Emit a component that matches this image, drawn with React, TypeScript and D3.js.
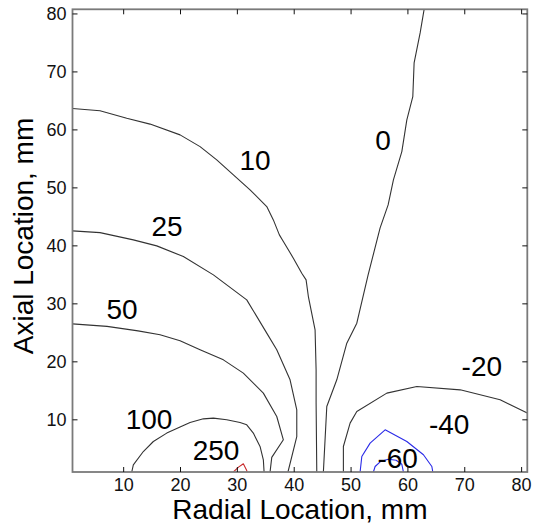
import React from "react";
import * as d3 from "d3";

// ---- data (data units: radial mm, axial mm) ----
const xTicks = [10, 20, 30, 40, 50, 60, 70, 80];
const yTicks = [10, 20, 30, 40, 50, 60, 70, 80];

const level250: [number, number][] = [
  [29.3, 1.0], [30.2, 1.84], [31.05, 2.41], [31.65, 1.26], [31.7, 1.0],
];
const level100: [number, number][] = [
  [11.42, 1.0], [11.7, 2.24], [13.46, 4.53], [15.22, 6.26], [17.58, 7.71], [19.92, 8.74],
  [21.68, 9.53], [24.02, 10.17], [25.78, 10.29], [28.13, 10.0], [30.47, 9.53], [31.65, 9.14],
  [32.81, 7.71], [33.99, 5.4], [34.57, 3.1], [34.7, 1.0],
];
const level50: [number, number][] = [
  [1.0, 26.55], [7.07, 26.12], [12.53, 25.34], [16.4, 24.66], [19.92, 23.62], [23.44, 22.07],
  [27.54, 20.34], [31.05, 18.05], [34.57, 14.6], [36.93, 10.57], [38.09, 6.55], [36.05, 3.53],
  [35.75, 1.0],
];
const level25: [number, number][] = [
  [1.0, 42.59], [5.84, 42.29], [11.7, 41.03], [15.82, 40.0], [20.5, 38.16], [25.78, 35.0],
  [31.65, 30.69], [35.17, 24.95], [36.93, 22.07], [39.27, 16.9], [40.45, 11.72], [40.45, 7.12],
  [38.9, 1.0],
];
const level10: [number, number][] = [
  [1.0, 63.7], [5.84, 63.3], [10.54, 62.0], [14.64, 61.0], [19.92, 59.14], [23.44, 57.12],
  [26.37, 54.83], [29.3, 52.24], [32.23, 49.66], [35.17, 46.78], [36.33, 44.48], [37.39, 41.9],
  [38.09, 40.74], [39.85, 37.88], [41.33, 35.29], [42.09, 34.14], [42.49, 31.26], [43.67, 25.52],
  [43.85, 18.62], [43.85, 12.93], [43.97, 1.0],
];
const level0: [number, number][] = [
  [62.85, 80.8], [62.15, 76.72], [61.09, 71.55], [60.86, 65.74], [59.81, 61.72], [58.93, 56.26],
  [57.45, 51.38], [56.52, 47.07], [55.11, 43.1], [53.0, 35.0], [51.01, 26.67], [49.25, 23.22],
  [47.49, 16.9], [45.73, 12.29], [45.13, 1.0],
];
const levelNeg20: [number, number][] = [
  [81.0, 11.16], [76.22, 13.45], [69.19, 15.17], [61.57, 15.74], [56.29, 14.6], [51.01, 11.43],
  [49.83, 9.43], [48.65, 5.4], [48.65, 1.0],
];
const levelNeg40: [number, number][] = [
  [51.59, 1.0], [51.89, 3.67], [53.35, 5.98], [55.99, 8.28], [59.81, 6.26], [62.73, 3.97],
  [64.21, 1.95], [64.38, 1.0],
];
const levelNeg60: [number, number][] = [
  [53.93, 1.0], [54.23, 1.95], [55.11, 2.76], [56.52, 3.19], [57.93, 3.02], [58.93, 2.33],
  [59.21, 1.0],
];

const labelTexts = ["0", "10", "25", "50", "100", "250", "-20", "-40", "-60"];
const labelX = [55.64, 33.11, 17.63, 9.71, 14.46, 26.25, 73.0, 67.25, 58.19];
const labelY = [58.28, 54.83, 43.45, 29.05, 10.17, 4.88, 19.31, 9.31, 3.45];

// ---- layout / style ----
const W = 534;
const H = 527;
const left = 72.5;
const right = 527.3;
const top = 9.3;
const bottom = 472;
const FONT = "Liberation Sans, Arial, Helvetica, sans-serif";

const x = d3.scaleLinear().domain([1, 81]).range([left, right]);
const y = d3.scaleLinear().domain([1, 80.8]).range([bottom, top]);
const line = d3
  .line<[number, number]>()
  .x((d) => x(d[0]))
  .y((d) => y(d[1]));

const series = [
  { pts: level250, color: "#c8282a" },
  { pts: level100, color: "#333333" },
  { pts: level50, color: "#333333" },
  { pts: level25, color: "#333333" },
  { pts: level10, color: "#333333" },
  { pts: level0, color: "#333333" },
  { pts: levelNeg20, color: "#333333" },
  { pts: levelNeg40, color: "#2a2ae8" },
  { pts: levelNeg60, color: "#2a2ae8" },
];

export default function App() {
  const tickLen = 5;
  return (
    <svg
      width={W}
      height={H}
      style={{ position: "absolute", left: 0, top: 0, display: "block", background: "#fff" }}
      fontFamily={FONT}
    >
      <defs>
        <clipPath id="plotClip">
          <rect x={left} y={top} width={right - left} height={bottom - top} />
        </clipPath>
      </defs>
      <rect x={0} y={0} width={W} height={H} fill="#fff" />
      <g clipPath="url(#plotClip)">
        {series.map((s, i) => (
          <path key={i} d={line(s.pts) || ""} fill="none" stroke={s.color} strokeWidth={1.1} strokeLinejoin="round" />
        ))}
      </g>
      {/* axes box */}
      <rect x={left} y={top} width={right - left} height={bottom - top} fill="none" stroke="#7a7a7a" strokeWidth={1.8} />
      {/* x ticks */}
      {xTicks.map((t) => (
        <g key={"x" + t}>
          <line x1={x(t)} x2={x(t)} y1={bottom} y2={bottom - tickLen} stroke="#111" strokeWidth={1} />
          <line x1={x(t)} x2={x(t)} y1={top} y2={top + tickLen} stroke="#111" strokeWidth={1} />
          <text x={x(t)} y={491} textAnchor="middle" fontSize={18} fill="#111">
            {t}
          </text>
        </g>
      ))}
      {/* y ticks */}
      {yTicks.map((t) => (
        <g key={"y" + t}>
          <line x1={left} x2={left + tickLen} y1={y(t)} y2={y(t)} stroke="#111" strokeWidth={1} />
          <line x1={right} x2={right - tickLen} y1={y(t)} y2={y(t)} stroke="#111" strokeWidth={1} />
          <text x={left - 6} y={y(t)} dy="0.35em" textAnchor="end" fontSize={18} fill="#111">
            {t}
          </text>
        </g>
      ))}
      {/* contour labels */}
      {labelTexts.map((t, i) => (
        <text key={"l" + i} x={x(labelX[i])} y={y(labelY[i])} dy="0.36em" textAnchor="middle" fontSize={28} fill="#000">
          {t}
        </text>
      ))}
      {/* axis labels */}
      <text x={(left + right) / 2} y={519} textAnchor="middle" fontSize={28} fill="#000">
        Radial Location, mm
      </text>
      <text transform={`translate(33, ${236}) rotate(-90)`} textAnchor="middle" fontSize={28} fill="#000">
        Axial Location, mm
      </text>
    </svg>
  );
}
